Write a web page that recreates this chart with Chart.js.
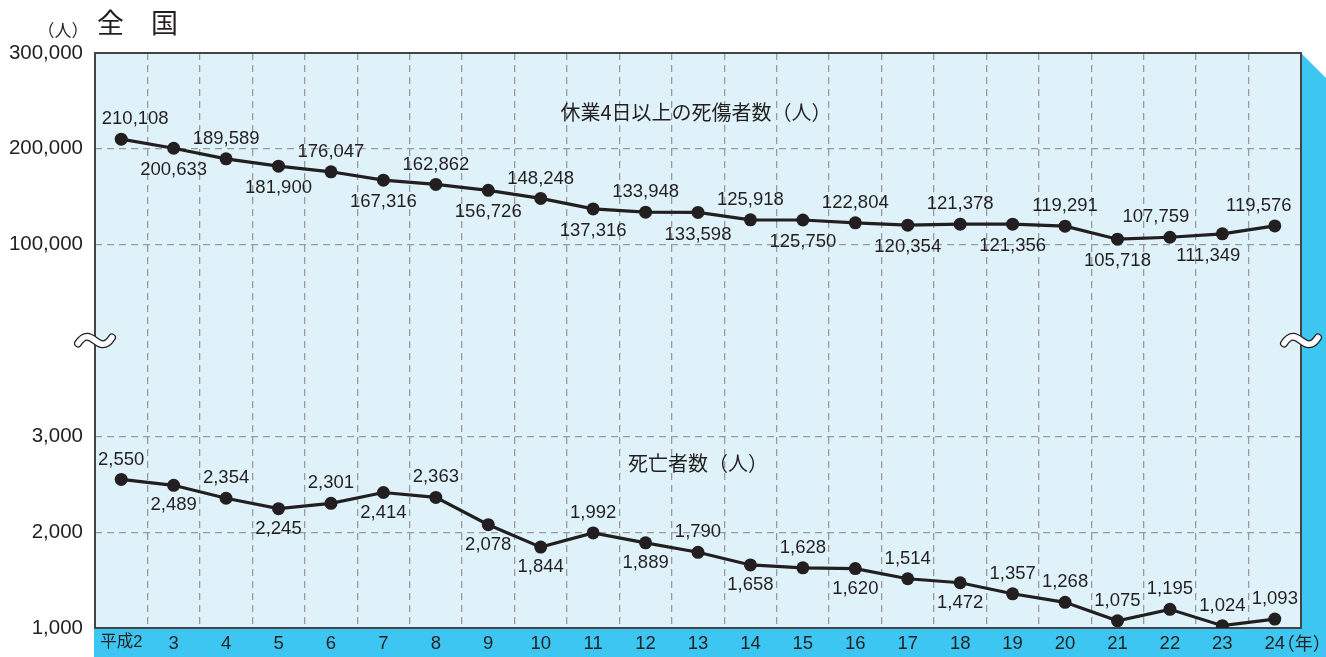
<!DOCTYPE html>
<html>
<head>
<meta charset="utf-8">
<script src="https://cdn.jsdelivr.net/npm/chart.js@4.4.1/dist/chart.umd.min.js"></script>
<style>
  html, body { margin: 0; padding: 0; background: #fff; }
</style>
</head>
<body>
<canvas id="chart" width="1326" height="657"></canvas>
<script>
const years = ["平成2", "3", "4", "5", "6", "7", "8", "9", "10", "11", "12", "13",
  "14", "15", "16", "17", "18", "19", "20", "21", "22", "23", "24"];

// 休業4日以上の死傷者数
const injuries = [210108, 200633, 189589, 181900, 176047, 167316, 162862, 156726,
  148248, 137316, 133948, 133598, 125918, 125750, 122804, 120354, 121378, 121356,
  119291, 105718, 107759, 111349, 119576];

// 死亡者数
const deaths = [2550, 2489, 2354, 2245, 2301, 2414, 2363, 2078, 1844, 1992, 1889,
  1790, 1658, 1628, 1620, 1514, 1472, 1357, 1268, 1075, 1195, 1024, 1093];

const injuryTicks = [100000, 200000, 300000];
const deathTicks = [1000, 2000, 3000];

// label above (a) or below (b) the point
const injuryLabelPos = ["a","b","a","b","a","b","a","b","a","b","a","b","a","b","a","b","a","b","a","b","a","b","a"];
const deathLabelPos  = ["a","b","a","b","a","b","a","b","b","a","b","a","b","a","b","a","b","a","a","a","a","a","a"];
const injuryLabelDx = [14,0,0,0,0,0,0,0,0,0,0,0,0,0,0,0,0,0,0,0,-14,-14,-16];

const FONT = '"Liberation Sans", "Noto Sans CJK JP", sans-serif';
const CJK = '"Noto Sans CJK JP", sans-serif';
const INK = "#231f20";
const BLUE = "#3cc6f1";

const fmt = v => v.toLocaleString("en-US");

// injuries axis runs -300000..300000, deaths axis 1000..7000 over the same height
function deathValueAt(v) {
  return 1000 + (v + 300000) / 100;
}

const decor = {
  id: "decor",
  beforeDraw(chart) {
    const { ctx, chartArea: a, width, height } = chart;
    ctx.save();
    ctx.fillStyle = "#fff";
    ctx.fillRect(0, 0, width, height);
    ctx.fillStyle = "#dff2fa";
    ctx.fillRect(a.left, a.top, a.right - a.left, a.bottom - a.top);
    ctx.fillStyle = BLUE;
    ctx.fillRect(a.left - 1, a.bottom, width - a.left + 1, height - a.bottom);
    ctx.beginPath();
    ctx.moveTo(a.right, a.top);
    ctx.lineTo(width, a.top + (width - a.right));
    ctx.lineTo(width, height);
    ctx.lineTo(a.right, height);
    ctx.closePath();
    ctx.fill();
    ctx.restore();
  },
  beforeDatasetsDraw(chart) {
    const { ctx, chartArea: a } = chart;
    ctx.save();
    ctx.strokeStyle = "#444";
    ctx.lineWidth = 2;
    ctx.strokeRect(a.left, a.top, a.right - a.left, a.bottom - a.top);
    ctx.restore();
  },
  afterDatasetsDraw(chart) {
    const { ctx, chartArea: a, scales } = chart;
    ctx.save();
    ctx.fillStyle = INK;
    ctx.textAlign = "center";
    ctx.textBaseline = "middle";

    // value labels
    ctx.font = "18.5px " + FONT;
    chart.getDatasetMeta(0).data.forEach((p, i) => {
      const dy = injuryLabelPos[i] === "a" ? -20 : 22;
      ctx.fillText(fmt(injuries[i]), p.x + injuryLabelDx[i], p.y + dy);
    });
    chart.getDatasetMeta(1).data.forEach((p, i) => {
      const dy = deathLabelPos[i] === "a" ? -20 : 20;
      ctx.fillText(fmt(deaths[i]), p.x, p.y + dy);
    });

    // series titles
    ctx.font = "20px " + CJK;
    const cx = scales.x.getPixelForValue(11);
    ctx.fillText("休業4日以上の死傷者数（人）", cx - 2, scales.y.getPixelForValue(238000));
    ctx.fillText("死亡者数（人）", cx, scales.y2.getPixelForValue(2720));

    // chart title and units
    ctx.textAlign = "left";
    ctx.font = "27px " + CJK;
    ctx.fillText("全　国", 97, 23);
    ctx.textAlign = "center";
    ctx.font = "17px " + CJK;
    ctx.fillText("（人）", 63, 31);
    ctx.textAlign = "left";
    ctx.font = "18px " + CJK;
    ctx.fillText("（年）", scales.x.getPixelForValue(22) + 2, a.bottom + 15);

    // axis break marks
    const yBreak = scales.y.getPixelForValue(0);
    [a.left, a.right].forEach(bx => {
      ctx.beginPath();
      ctx.moveTo(bx - 17, yBreak + 3);
      ctx.bezierCurveTo(bx - 10, yBreak - 8, bx - 4, yBreak - 3, bx, yBreak);
      ctx.bezierCurveTo(bx + 4, yBreak + 3, bx + 10, yBreak + 8, bx + 17, yBreak - 3);
      ctx.lineCap = "round";
      ctx.strokeStyle = INK;
      ctx.lineWidth = 8;
      ctx.stroke();
      ctx.strokeStyle = "#fff";
      ctx.lineWidth = 5.5;
      ctx.stroke();
    });
    ctx.restore();
  }
};

const lineStyle = {
  borderColor: INK,
  borderWidth: 3.2,
  pointRadius: 6.5,
  pointBackgroundColor: INK,
  pointBorderColor: INK,
  pointBorderWidth: 0,
  tension: 0
};

new Chart(document.getElementById("chart"), {
  type: "line",
  data: {
    labels: years,
    datasets: [
      Object.assign({ label: "休業4日以上の死傷者数", data: injuries, yAxisID: "y" }, lineStyle),
      Object.assign({ label: "死亡者数", data: deaths, yAxisID: "y2" }, lineStyle)
    ]
  },
  options: {
    responsive: false,
    devicePixelRatio: 1,
    animation: false,
    layout: { padding: { top: 53, right: 25, left: 0, bottom: 0 } },
    plugins: { legend: { display: false }, tooltip: { enabled: false } },
    scales: {
      x: {
        offset: true,
        grid: { offset: true, drawTicks: false, color: "#9a9a9a", lineWidth: 1.3 },
        border: { display: false, dash: [7, 5] },
        ticks: {
          color: INK,
          padding: 5,
          autoSkip: false,
          maxRotation: 0,
          font: c => ({ family: FONT, size: c.index === 0 ? 16.5 : 18.5 })
        },
        afterFit: s => { s.height = 29; }
      },
      y: {
        min: -300000,
        max: 300000,
        afterFit: s => { s.width = 95; },
        grid: {
          drawTicks: false,
          lineWidth: 1.3,
          color: c => [100000, 200000, -100000, -200000].includes(c.tick.value) ? "#9a9a9a" : "rgba(0,0,0,0)"
        },
        border: { display: false, dash: [7, 5] },
        ticks: {
          stepSize: 100000,
          padding: 12,
          color: INK,
          font: { family: FONT, size: 20.5 },
          callback: v => {
            if (injuryTicks.includes(v)) return fmt(v);
            const d = deathValueAt(v);
            if (v < 0 && deathTicks.includes(d)) return fmt(d);
            return "";
          }
        }
      },
      y2: {
        display: false,
        min: 1000,
        max: 7000
      }
    }
  },
  plugins: [decor]
});
</script>
</body>
</html>
